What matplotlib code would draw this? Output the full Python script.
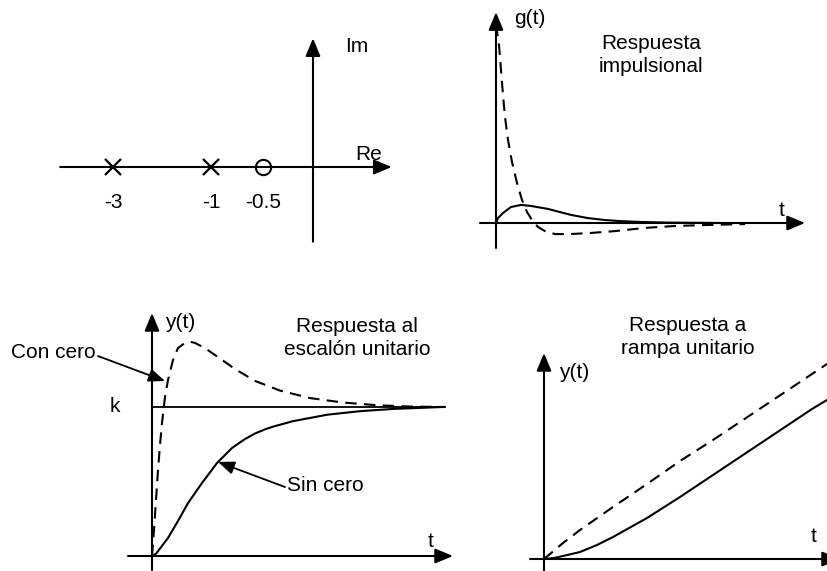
#!/usr/bin/env python3
"""
Polos y cero: diagrama en el plano s y respuestas temporales (con / sin cero)
"""

import matplotlib.pyplot as plt

plt.rcParams['font.family'] = ['Liberation Sans', 'DejaVu Sans']

# ---- pole-zero map (schematic positions along the real axis) ----
pole_pos = [-3.0, -1.53]
pole_labels = ['-3', '-1']
zero_pos = [-0.75]
zero_labels = ['-0.5']

# ---- impulse response g(t) ----
imp_t_zero = [0.0, 0.075, 0.125, 0.175, 0.225, 0.30, 0.40, 0.525, 0.65, 0.775, 0.90,
              1.05, 1.225, 1.475, 1.85, 2.35, 2.975, 3.725, 4.475, 5.35, 6.225]
imp_g_zero = [0.93, 0.836, 0.718, 0.601, 0.498, 0.390, 0.286, 0.188, 0.108, 0.052, 0.014,
              -0.019, -0.038, -0.052, -0.052, -0.047, -0.038, -0.023, -0.014, -0.009, -0.005]
imp_t_nozero = [0.0, 0.05, 0.175, 0.375, 0.625, 0.875, 1.3, 1.875, 2.3, 2.725, 3.1, 3.6, 4.275, 5.6]
imp_g_nozero = [0.0, 0.023, 0.047, 0.075, 0.085, 0.080, 0.066, 0.038, 0.023, 0.014, 0.009,
                0.005, 0.002, 0.0]

# ---- unit step response y(t), k = 1 ----
step_t_zero = [0.0, 0.05, 0.10, 0.15, 0.20, 0.25, 0.325, 0.40, 0.525, 0.65, 0.825, 0.95,
               1.075, 1.325, 1.65, 2.075, 2.575, 3.2, 3.95, 4.775, 5.625, 6.45, 7.325]
step_y_zero = [0.0, 0.174, 0.376, 0.577, 0.745, 0.893, 1.067, 1.181, 1.315, 1.396, 1.430,
               1.438, 1.430, 1.395, 1.335, 1.255, 1.175, 1.11, 1.06, 1.03, 1.012, 1.003, 1.0]
step_t_nozero = [0.0, 0.1, 0.2, 0.4, 0.65, 0.9, 1.25, 1.625, 2.0, 2.325, 2.575, 2.825, 3.025,
                 3.525, 4.375, 5.2, 6.025, 7.275]
step_y_nozero = [0.0, 0.015, 0.050, 0.121, 0.235, 0.355, 0.490, 0.624, 0.725, 0.785, 0.822,
                 0.850, 0.868, 0.905, 0.948, 0.972, 0.987, 1.0]
k_level = 1.0

# ---- unit ramp response ----
ramp_t_zero = [0.0, 0.15, 0.475, 0.90, 1.725, 2.575, 3.40, 4.225, 5.05, 5.875, 6.70, 7.15]
ramp_y_zero = [0.0, 0.125, 0.40, 0.725, 1.30, 1.875, 2.45, 2.975, 3.525, 4.075, 4.625, 4.925]
ramp_t_nozero = [0.0, 0.25, 0.475, 0.90, 1.325, 1.725, 2.575, 3.40, 4.225, 5.05, 5.875, 6.70, 7.15]
ramp_y_nozero = [0.0, 0.025, 0.075, 0.175, 0.35, 0.55, 1.025, 1.55, 2.10, 2.65, 3.20, 3.75, 4.02]

W, H = 827, 571
AXIS_ARROW = dict(arrowstyle='-|>,head_length=0.6,head_width=0.25', mutation_scale=18,
                  lw=1.5, color='black', shrinkA=0, shrinkB=0)
NOTE_ARROW = dict(arrowstyle='-|>,head_length=0.55,head_width=0.22', mutation_scale=18,
                  lw=1.3, color='black', shrinkA=0, shrinkB=0)
DASH = (0, (5.5, 3.5))
FS = 15


def panel(fig, ox, oy, sx, sy):
    # full-figure transparent axes whose data origin sits at pixel (ox, oy)
    ax = fig.add_axes([0, 0, 1, 1])
    ax.set_xlim(-ox / sx, (W - ox) / sx)
    ax.set_ylim((oy - H) / sy, oy / sy)
    ax.axis('off')
    ax.patch.set_alpha(0)
    return ax


def arrow(ax, start, end, style=AXIS_ARROW):
    ax.annotate('', xy=end, xytext=start, arrowprops=style, annotation_clip=False)


def main():
    fig = plt.figure(figsize=(W / 100, H / 100), dpi=100)

    # Plot 1: pole-zero map
    ax = panel(fig, 313, 167, 66.7, 66.7)
    arrow(ax, (-3.79, 0), (1.18, 0))
    arrow(ax, (0, -1.12), (0, 1.93))
    ax.plot(pole_pos, [0] * len(pole_pos), 'x', color='black', markersize=12, mew=1.6)
    ax.plot(zero_pos, [0] * len(zero_pos), 'o', color='black', mfc='white',
            markersize=11, mew=1.5)
    for p, lab in zip(pole_pos + zero_pos, pole_labels + zero_labels):
        ax.text(p, -0.525, lab, ha='center', va='center', fontsize=FS)
    ax.text(0.66, 1.80, 'Im', ha='center', va='center', fontsize=FS)
    ax.text(0.84, 0.18, 'Re', ha='center', va='center', fontsize=FS)

    # Plot 2: impulse response
    ax = panel(fig, 496, 223, 40, 213)
    arrow(ax, (-0.4, 0), (7.725, 0))
    arrow(ax, (0, -0.117), (0, 0.99))
    ax.plot(imp_t_zero, imp_g_zero, color='black', lw=1.5, linestyle=DASH)
    ax.plot(imp_t_nozero, imp_g_nozero, color='black', lw=1.5)
    ax.text(0.85, 0.962, 'g(t)', ha='center', va='center', fontsize=FS)
    ax.text(3.875, 0.789, 'Respuesta\nimpulsional', ha='center', va='center', fontsize=FS,
            linespacing=1.25)
    ax.text(7.15, 0.061, 't', ha='center', va='center', fontsize=FS)

    # Plot 3: unit step response
    ax = panel(fig, 152, 556, 40, 149)
    arrow(ax, (-0.6, 0), (7.525, 0))
    arrow(ax, (0, -0.094), (0, 1.631))
    ax.plot([0, 7.325], [k_level, k_level], color='black', lw=1.3)
    ax.plot(step_t_zero, step_y_zero, color='black', lw=1.5, linestyle=DASH)
    ax.plot(step_t_nozero, step_y_nozero, color='black', lw=1.5)
    ax.text(0.7, 1.570, 'y(t)', ha='center', va='center', fontsize=FS)
    ax.text(5.125, 1.463, 'Respuesta al\nescalón unitario', ha='center', va='center',
            fontsize=FS, linespacing=1.25)
    ax.text(-2.475, 1.369, 'Con cero', ha='center', va='center', fontsize=FS)
    ax.text(-0.925, k_level, 'k', ha='center', va='center', fontsize=FS)
    ax.text(4.325, 0.470, 'Sin cero', ha='center', va='center', fontsize=FS)
    ax.text(6.975, 0.10, 't', ha='center', va='center', fontsize=FS)
    arrow(ax, (-1.35, 1.342), (0.325, 1.174), NOTE_ARROW)
    arrow(ax, (3.325, 0.463), (1.65, 0.631), NOTE_ARROW)

    # Plot 4: unit ramp response
    ax = panel(fig, 544, 559, 40, 40)
    arrow(ax, (-0.35, 0), (7.4, 0))
    arrow(ax, (0, -0.3), (0, 5.15))
    ax.plot(ramp_t_zero, ramp_y_zero, color='black', lw=1.5, linestyle=DASH)
    ax.plot(ramp_t_nozero, ramp_y_nozero, color='black', lw=1.5)
    ax.text(0.75, 4.675, 'y(t)', ha='center', va='center', fontsize=FS)
    ax.text(3.6, 5.55, 'Respuesta a\nrampa unitario', ha='center', va='center', fontsize=FS,
            linespacing=1.25)
    ax.text(6.75, 0.55, 't', ha='center', va='center', fontsize=FS)

    fig.savefig('out.png', dpi=100, facecolor='white')
    plt.close(fig)


if __name__ == "__main__":
    main()
